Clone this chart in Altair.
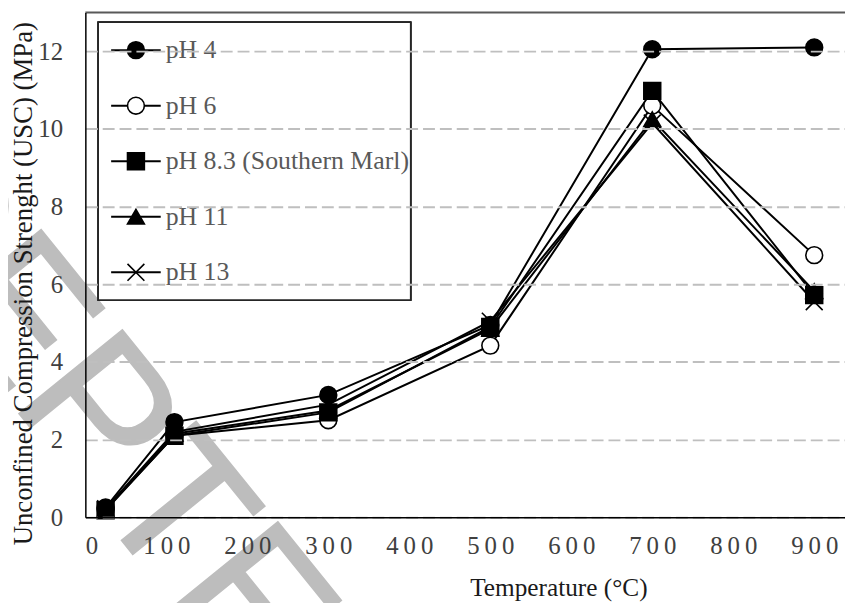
import altair as alt
import pandas as pd

temps = [25, 110, 300, 500, 700, 900]
series = ["pH 4", "pH 6", "pH 8.3 (Southern Marl)", "pH 11", "pH 13"]
ph4 = [0.25, 2.45, 3.15, 4.95, 12.05, 12.10]
ph6 = [0.20, 2.10, 2.50, 4.42, 10.60, 6.75]
ph83 = [0.18, 2.10, 2.70, 4.90, 10.98, 5.72]
ph11 = [0.20, 2.15, 2.75, 4.85, 10.25, 5.82]
ph13 = [0.22, 2.20, 2.90, 5.05, 10.15, 5.55]
watermark = ["ACCEPTED MANUSCRIPT"]

shapes = ["circle", "circle", "square", "triangle-up", "M-1,-1L1,1M-1,1L1,-1"]
fills = ["black", "white", "black", "black", "black"]

rows = []
for name, vals in zip(series, [ph4, ph6, ph83, ph11, ph13]):
    for t, v in zip(temps, vals):
        rows.append({"series": name, "temp": t, "ucs": v})
df = pd.DataFrame(rows)
leg = pd.DataFrame({"series": series})
wm = pd.DataFrame({"t": watermark})

W, H = 766, 509
FONT = "Liberation Serif"

shape_scale = alt.Scale(domain=series, range=shapes)
fill_scale = alt.Scale(domain=series, range=fills)

x_enc = alt.X(
    "temp:Q",
    scale=alt.Scale(domain=[0, 938], nice=False),
    axis=alt.Axis(
        values=[0, 100, 200, 300, 400, 500, 600, 700, 800, 900],
        labelExpr="join(split(datum.label, ''), '\u2009')",
        grid=False,
        ticks=False,
        labelPadding=17,
        labelFontSize=25,
        labelColor="#404040",
        labelFont=FONT,
        title="Temperature (\u00b0C)",
        titleFont=FONT,
        titleFontSize=25.5,
        titleFontWeight="normal",
        titleColor="#1a1a1a",
        titleX=477,
        titleY=79,
        titleAlign="center",
        titleBaseline="alphabetic",
        domainColor="black",
        domainWidth=1.5,
        zindex=1,
    ),
)
y_enc = alt.Y(
    "ucs:Q",
    scale=alt.Scale(domain=[0, 13], nice=False),
    axis=alt.Axis(
        values=[0, 2, 4, 6, 8, 10, 12],
        grid=True,
        gridColor="#BFBFBF",
        gridDash=[12, 5],
        gridWidth=2,
        ticks=False,
        labelPadding=23,
        labelFontSize=25,
        labelColor="#404040",
        labelFont=FONT,
        title="Unconfined Compression Strenght (USC) (MPa)",
        titleFont=FONT,
        titleFontSize=27,
        titleFontWeight="normal",
        titleColor="#1a1a1a",
        titleX=-54,
        titleY=273,
        titleAlign="center",
        titleBaseline="alphabetic",
        titleAngle=270,
        domainColor="black",
        domainWidth=1.5,
        zindex=1,
    ),
)

wm_layer = alt.Chart(wm).mark_text(
    align="left", baseline="alphabetic", angle=51, font="Liberation Sans",
    fontSize=195, color="#BDBDBD", stroke="#BDBDBD", strokeWidth=1.5
).encode(text="t:N", x=alt.value(-418), y=alt.value(-29))

lines = alt.Chart(df).mark_line(color="black", strokeWidth=2).encode(
    x=x_enc, y=y_enc, detail="series:N", order="temp:Q"
)
points = alt.Chart(df).mark_point(
    size=289, stroke="black", strokeWidth=1.6, opacity=1
).encode(
    x="temp:Q",
    y="ucs:Q",
    shape=alt.Shape("series:N", scale=shape_scale, legend=None),
    fill=alt.Fill("series:N", scale=fill_scale, legend=None),
)
top_rule = alt.Chart(wm).mark_rule(color="#595959", strokeWidth=2).encode(
    x=alt.value(0), x2=alt.value(W), y=alt.value(0)
)
main = alt.layer(wm_layer, lines, points, top_rule)

# legend
box = alt.Chart(leg).mark_rect(
    fill="white", stroke="#262626", strokeWidth=1.5
).encode(
    x=alt.value(13), x2=alt.value(328), y=alt.value(10), y2=alt.value(290)
)
ly = alt.Y(
    "series:N",
    scale=alt.Scale(type="point", domain=series, range=[38, 262], padding=0),
    axis=None,
)
leg_lines = alt.Chart(leg).mark_rule(color="black", strokeWidth=2).encode(
    x=alt.value(26), x2=alt.value(76), y=ly
)
leg_pts = alt.Chart(leg).mark_point(
    size=289, stroke="black", strokeWidth=1.6, opacity=1
).encode(
    x=alt.value(51),
    y=alt.Y("series:N"),
    shape=alt.Shape("series:N", scale=shape_scale, legend=None),
    fill=alt.Fill("series:N", scale=fill_scale, legend=None),
)
leg_text = alt.Chart(leg).mark_text(
    align="left", baseline="middle", font=FONT, fontSize=26, color="#595959"
).encode(x=alt.value(81), y=alt.Y("series:N"), text="series:N")
legend = alt.layer(box, leg_lines, leg_pts, leg_text)

chart = (
    alt.layer(main, legend)
    .resolve_scale(y="independent")
    .properties(
        width=W,
        height=H,
        autosize=alt.AutoSizeParams(type="none"),
        padding={"left": 78, "top": 2, "right": 0, "bottom": 84},
        background="white",
    )
    .configure_view(stroke=None)
)

chart.save("out.html", embed_options={"renderer": "svg", "actions": False})
